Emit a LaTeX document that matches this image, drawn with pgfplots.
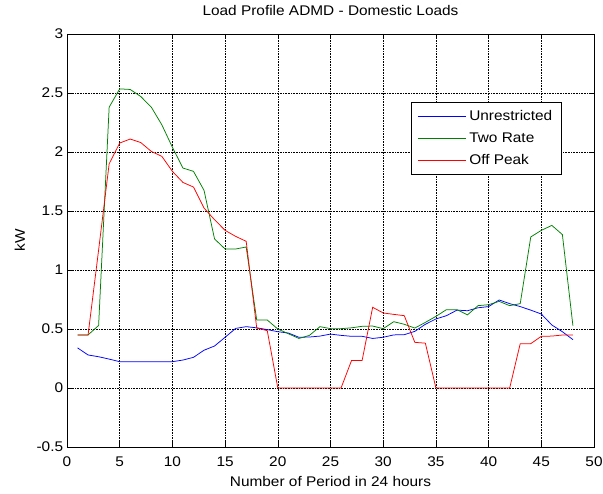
\documentclass[border=0pt]{standalone}
\usepackage{pgfplots}
\pgfplotsset{compat=1.18}
\usepackage{fontspec}
\setmainfont{Liberation Sans}[FakeStretch=1.1]
\begin{document}
\begin{tikzpicture}
\begin{axis}[
  scale only axis, width=527pt, height=413pt,
  xmin=0, xmax=50, ymin=-0.5, ymax=3,
  xtick={0,5,...,50}, ytick={-0.5,0,0.5,1,1.5,2,2.5,3},
  yticklabels={-0.5,0,0.5,1,1.5,2,2.5,3},
  xtick pos=both, ytick pos=both, tick align=inside,
  major tick length=5pt,
  axis line style={line width=0.8pt, black},
  every tick/.style={black, line width=0.6pt},
  grid=major,
  major grid style={black, line width=0.5pt, dash pattern=on 0.8pt off 0.8pt},
  font=\fontsize{14}{17}\selectfont,
  /pgf/number format/assume math mode=true,
  xticklabel style={anchor=base, yshift=-19.7pt},
  yticklabel style={anchor=east, inner sep=0pt, xshift=-3.7pt},
  title={Load Profile ADMD - Domestic Loads},
  title style={at={(0.5,1)}, anchor=base, yshift=12pt, inner sep=0pt},
  xlabel={Number of Period in 24 hours},
  xlabel style={at={(0.5,0)}, anchor=base, yshift=-39pt, inner sep=0pt},
  ylabel={kW},
  ylabel style={at={(axis description cs:-0.0797,0.5)}, anchor=base, inner sep=0pt},
  legend style={at={(axis description cs:0.653,0.835)}, anchor=north west,
    draw=black, line width=0.8pt, inner xsep=6pt, inner ysep=3pt,
    row sep=0pt, column sep=0pt,
    nodes={inner xsep=3pt, inner ysep=4pt, text height=11pt, text depth=3pt, anchor=west}},
  legend cell align=left,
  legend image code/.code={\draw[#1, line width=0.75pt] (0pt,0pt) -- (48pt,0pt);},
  clip=true,
]
\addplot[blue, line width=0.75pt] coordinates {
(1,0.34)(2,0.28)(3,0.265)(4,0.245)(5,0.223)(6,0.223)(7,0.223)(8,0.223)(9,0.223)(10,0.223)
(11,0.237)(12,0.26)(13,0.32)(14,0.356)(15,0.43)(16,0.505)(17,0.52)(18,0.51)(19,0.495)(20,0.477)
(21,0.466)(22,0.43)(23,0.432)(24,0.44)(25,0.457)(26,0.446)(27,0.438)(28,0.438)(29,0.42)(30,0.43)
(31,0.45)(32,0.452)(33,0.48)(34,0.54)(35,0.585)(36,0.613)(37,0.66)(38,0.655)(39,0.68)(40,0.69)
(41,0.746)(42,0.715)(43,0.69)(44,0.66)(45,0.627)(46,0.534)(47,0.477)(48,0.41)};
\addlegendentry{Unrestricted}
\addplot[green!50!black, line width=0.75pt] coordinates {
(1,0.45)(2,0.45)(3,0.53)(4,2.38)(5,2.535)(6,2.53)(7,2.47)(8,2.38)(9,2.23)(10,2.04)
(11,1.864)(12,1.836)(13,1.675)(14,1.263)(15,1.178)(16,1.178)(17,1.195)(18,0.576)(19,0.576)(20,0.5)
(21,0.46)(22,0.42)(23,0.446)(24,0.52)(25,0.503)(26,0.503)(27,0.51)(28,0.523)(29,0.525)(30,0.503)
(31,0.562)(32,0.54)(33,0.508)(34,0.556)(35,0.607)(36,0.664)(37,0.664)(38,0.62)(39,0.698)(40,0.706)
(41,0.734)(42,0.698)(43,0.715)(44,1.28)(45,1.336)(46,1.378)(47,1.3)(48,0.528)};
\addlegendentry{Two Rate}
\addplot[red, line width=0.75pt] coordinates {
(1,0.45)(2,0.45)(3,1.17)(4,1.9)(5,2.076)(6,2.11)(7,2.08)(8,2.005)(9,1.963)(10,1.836)
(11,1.742)(12,1.703)(13,1.525)(14,1.426)(15,1.336)(16,1.285)(17,1.243)(18,0.508)(19,0.486)(20,0)
(21,0)(22,0)(23,0)(24,0)(25,0)(26,0)(27,0.234)(28,0.234)(29,0.684)(30,0.636)
(31,0.624)(32,0.613)(33,0.387)(34,0.38)(35,0)(36,0)(37,0)(38,0)(39,0)(40,0)
(41,0)(42,0)(43,0.376)(44,0.376)(45,0.438)(46,0.44)(47,0.449)(48,0.449)};
\addlegendentry{Off Peak}
\end{axis}
\pgfresetboundingbox
\useasboundingbox ([shift={(-67pt,-46pt)}]current axis.south west) rectangle ([shift={(9pt,34pt)}]current axis.north east);
\end{tikzpicture}
\end{document}
